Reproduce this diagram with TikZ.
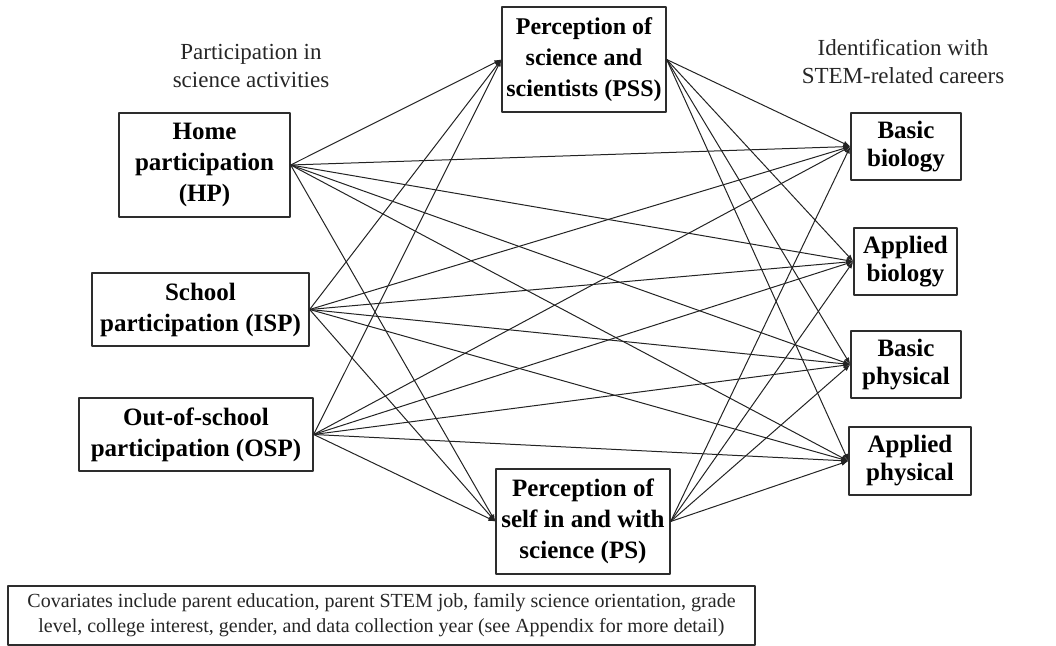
\documentclass[tikz,border=0pt]{standalone}
\usepackage{fontspec}
\setmainfont{Liberation Serif}
\usetikzlibrary{arrows.meta, positioning}
\definecolor{boxcolor}{RGB}{45, 45, 45}
\definecolor{pathcolor}{RGB}{35, 35, 35}

\begin{document}
\begin{tikzpicture}[x=0.5pt, y=-0.5pt, >={Latex[length=3.5pt, width=2.6pt]}, line join=round,
  varbox/.style={draw=boxcolor, line width=0.65pt, align=center, inner sep=0pt,
    font=\fontsize{12.5}{15.5}\selectfont\bfseries},
  careerbox/.style={varbox, font=\fontsize{12.5}{14}\selectfont\bfseries},
  headlabel/.style={align=center, text=black!85, font=\fontsize{11.5}{14}\selectfont},
  link/.style={->, pathcolor, line width=0.5pt}]

  % Canvas
  \useasboundingbox (0,0) rectangle (1056,646);

  % Column headings
  \node[headlabel] (parthead) at (251, 66) {Participation in\\science activities};
  \node[headlabel] (carhead) at (903, 62) {Identification with\\STEM-related careers};

  % Participation boxes
  \node[varbox, minimum width=85.5pt, minimum height=52pt] (hp) at (204.5, 165)
    {Home\\participation\\(HP)};
  \node[varbox, minimum width=108.5pt, minimum height=36.5pt] (isp) at (200.5, 309.5)
    {School\\participation (ISP)};
  \node[varbox, minimum width=117pt, minimum height=36.5pt] (osp) at (196, 434.5)
    {Out-of-school\\participation (OSP)};

  % Perception boxes
  \node[varbox, minimum width=82pt, minimum height=52.5pt,
    font=\fontsize{12}{15.5}\selectfont\bfseries] (pss) at (584, 59.5)
    {Perception of\\science and\\scientists (PSS)};
  \node[varbox, minimum width=87pt, minimum height=52.5pt] (ps) at (583, 521.5)
    {Perception of\\self in and with\\science (PS)};

  % Career boxes
  \node[careerbox, minimum width=55pt, minimum height=33.5pt] (bb) at (906, 146.5)
    {Basic\\biology};
  \node[careerbox, minimum width=51.5pt, minimum height=33.5pt] (ab) at (905.5, 261.5)
    {Applied\\biology};
  \node[careerbox, minimum width=55pt, minimum height=33.5pt] (bp) at (906, 364.5)
    {Basic\\physical};
  \node[careerbox, minimum width=61pt, minimum height=34pt] (ap) at (910, 461)
    {Applied\\physical};

  % Covariates note
  \node[draw=boxcolor, line width=0.65pt, align=center, inner sep=0pt,
    minimum width=373.5pt, minimum height=29.5pt, text=black!85,
    font=\fontsize{10}{12.5}\selectfont] (cov) at (381.5, 615.5)
    {Covariates include parent education, parent STEM job, family science orientation, grade\\
     level, college interest, gender, and data collection year (see Appendix for more detail)};


  % Home participation paths
  \draw[link] (hp.east) -- (pss.west);
  \draw[link] (hp.east) -- (ps.west);
  \draw[link] (hp.east) -- (bb.west);
  \draw[link] (hp.east) -- (ab.west);
  \draw[link] (hp.east) -- (bp.west);
  \draw[link] (hp.east) -- (ap.west);

  % School participation paths
  \draw[link] (isp.east) -- (pss.west);
  \draw[link] (isp.east) -- (ps.west);
  \draw[link] (isp.east) -- (bb.west);
  \draw[link] (isp.east) -- (ab.west);
  \draw[link] (isp.east) -- (bp.west);
  \draw[link] (isp.east) -- (ap.west);

  % Out-of-school participation paths
  \draw[link] (osp.east) -- (pss.west);
  \draw[link] (osp.east) -- (ps.west);
  \draw[link] (osp.east) -- (bb.west);
  \draw[link] (osp.east) -- (ab.west);
  \draw[link] (osp.east) -- (bp.west);
  \draw[link] (osp.east) -- (ap.west);

  % Perception paths
  \draw[link] (pss.east) -- (bb.west);
  \draw[link] (pss.east) -- (ab.west);
  \draw[link] (pss.east) -- (bp.west);
  \draw[link] (pss.east) -- (ap.west);
  \draw[link] (ps.east) -- (bb.west);
  \draw[link] (ps.east) -- (ab.west);
  \draw[link] (ps.east) -- (bp.west);
  \draw[link] (ps.east) -- (ap.west);

\end{tikzpicture}
\end{document}
